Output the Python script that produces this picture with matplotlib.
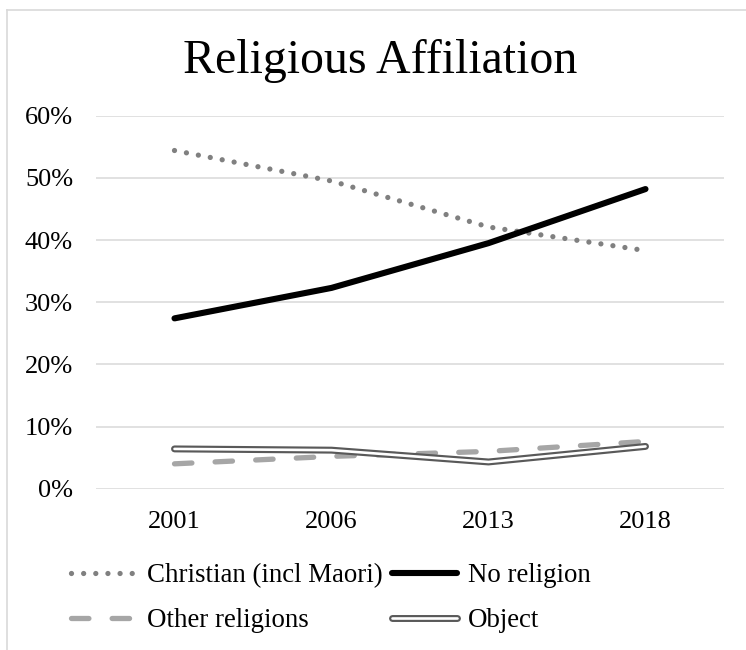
import numpy as np
import matplotlib
matplotlib.use("Agg")
import matplotlib.pyplot as plt
from matplotlib.lines import Line2D
from matplotlib.ticker import FuncFormatter, MultipleLocator
from matplotlib.legend_handler import HandlerTuple

years = ["2001", "2006", "2013", "2018"]
christian = [54.4, 49.5, 42.1, 38.3]
no_religion = [27.4, 32.3, 39.5, 48.2]
other_religions = [4.0, 5.2, 6.0, 7.6]
object_ = [6.4, 6.2, 4.3, 6.8]
title = "Religious Affiliation"

plt.rcParams['font.family'] = ['Liberation Serif', 'DejaVu Serif']

W, H = 746, 650
fig = plt.figure(figsize=(W / 100, H / 100), dpi=100)
ax = fig.add_axes([96 / W, 1 - 488.7 / H, 628 / W, 373 / H])

x = np.arange(len(years))
c_line, = ax.plot(x, christian, color="#808080", lw=3.8, dashes=(0.001, 2.3),
                  dash_capstyle="round", label="Christian (incl Maori)", zorder=3)
n_line, = ax.plot(x, no_religion, color="black", lw=4.4, solid_capstyle="round",
                  solid_joinstyle="round", label="No religion", zorder=4)
o_line, = ax.plot(x, other_religions, color="#A6A6A6", lw=3.8, dashes=(3.3, 4.4),
                  dash_capstyle="round", label="Other religions", zorder=3)
ob_outer, = ax.plot(x, object_, color="#595959", lw=5.0, solid_capstyle="round",
                    solid_joinstyle="round", zorder=5)
ob_inner, = ax.plot(x, object_, color="white", lw=1.9, solid_capstyle="round",
                    solid_joinstyle="round", zorder=6)

ax.set_xlim(-0.5, 3.5)
ax.set_ylim(0, 60)
ax.yaxis.set_major_locator(MultipleLocator(10))
ax.yaxis.set_major_formatter(FuncFormatter(lambda v, p: f"{int(round(v))}%"))
ax.set_xticks(x)
ax.set_xticklabels(years)
ax.grid(axis="y", color="#D9D9D9", lw=1.1)
ax.set_axisbelow(True)
for s in ax.spines.values():
    s.set_visible(False)
ax.tick_params(axis="both", length=0, labelsize=19, colors="black")
ax.tick_params(axis="y", pad=16.5)
ax.tick_params(axis="x", pad=16)

fig.text(380.5 / W, 1 - 73.3 / H, title, ha="center", va="baseline", fontsize=34.5)

leg = fig.legend([c_line, o_line, n_line, (ob_outer, ob_inner)],
                 ["Christian (incl Maori)", "Other religions", "No religion", "Object"],
                 ncol=2, loc="upper left", bbox_to_anchor=(71 / W, 1 - 563 / H),
                 frameon=False, fontsize=19.4, handlelength=2.4, handletextpad=0.42,
                 columnspacing=0.35, labelspacing=0.74, borderpad=0, borderaxespad=0,
                 handler_map={tuple: HandlerTuple(ndivide=1, pad=0)})

# chart border (top and left visible)
fig.add_artist(Line2D([7 / W, 1.0], [1 - 10 / H, 1 - 10 / H], transform=fig.transFigure,
                      color="#D9D9D9", lw=1.2))
fig.add_artist(Line2D([7 / W, 7 / W], [0, 1 - 10 / H], transform=fig.transFigure,
                      color="#D9D9D9", lw=1.2))

fig.savefig("out.png", dpi=100, facecolor="white")
